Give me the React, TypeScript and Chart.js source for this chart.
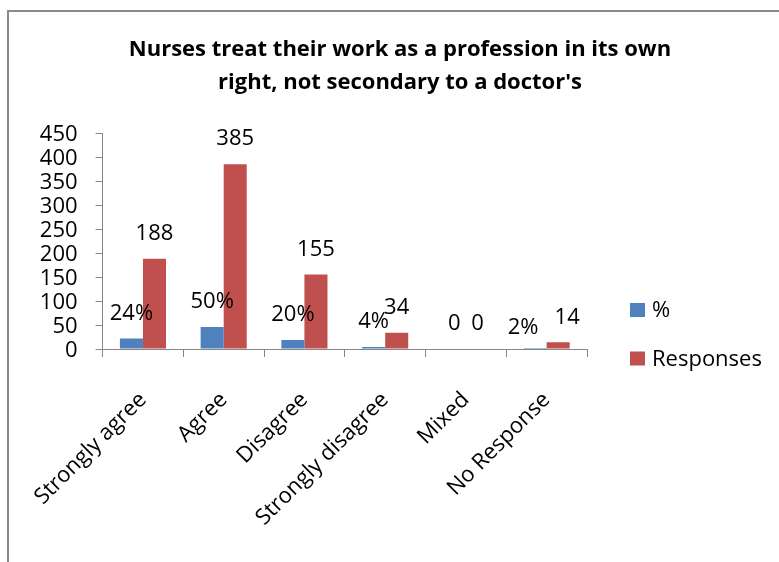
import React, { useEffect, useRef } from "react";
import { Chart, registerables } from "chart.js";

Chart.register(...registerables);

// ---- data ----
const categories = ["Strongly agree", "Agree", "Disagree", "Strongly disagree", "Mixed", "No Response"];
const percentValues = [22, 46, 19, 4, 0, 2];
const percentLabels = ["24%", "50%", "20%", "4%", "0", "2%"];
const responseValues = [188, 385, 155, 34, 0, 14];
const responseLabels = ["188", "385", "155", "34", "0", "14"];
const seriesNames = ["%", "Responses"];
const yMin = 0;
const yMax = 450;
const yStep = 50;
const titleLines = ["Nurses treat their work as a profession in its own", "right, not secondary to a doctor's"];

const BLUE = "#4F81BD";
const RED = "#C0504D";
const AXIS = "#868686";
const FONT = "'Open Sans'";

const dataLabelTexts = [percentLabels, responseLabels];
// small manual nudges (dataset, index) -> [dx, dy], as in the original
const labelNudges: Record<string, [number, number]> = {
  "0-5": [-12, 5],
  "1-5": [9, 0],
};

const decorPlugin = {
  id: "decor",
  beforeDraw(chart: any) {
    const ctx = chart.ctx;
    ctx.save();
    ctx.fillStyle = "#ffffff";
    ctx.fillRect(0, 0, chart.width, chart.height);
    ctx.strokeStyle = "#8a8a8a";
    ctx.lineWidth = 2;
    ctx.beginPath();
    ctx.moveTo(8, chart.height);
    ctx.lineTo(8, 11);
    ctx.lineTo(chart.width, 11);
    ctx.stroke();
    ctx.restore();
  },
  afterDatasetsDraw(chart: any) {
    const ctx = chart.ctx;
    ctx.save();
    ctx.font = `22px ${FONT}`;
    ctx.fillStyle = "#000";
    ctx.textAlign = "center";
    ctx.textBaseline = "middle";
    chart.data.datasets.forEach((_ds: any, di: number) => {
      const meta = chart.getDatasetMeta(di);
      meta.data.forEach((bar: any, i: number) => {
        const nudge = labelNudges[`${di}-${i}`] || [0, 0];
        ctx.fillText(dataLabelTexts[di][i], bar.x + nudge[0], bar.y - 25 + nudge[1]);
      });
    });
    ctx.restore();
  },
  afterDraw(chart: any) {
    const ctx = chart.ctx;
    ctx.save();
    ctx.font = `22px ${FONT}`;
    ctx.textAlign = "left";
    ctx.textBaseline = "middle";
    const x0 = chart.chartArea.right + 43;
    const yStart = 310;
    const gap = 48.5;
    chart.data.datasets.forEach((ds: any, di: number) => {
      const cy = yStart + di * gap;
      ctx.fillStyle = ds.backgroundColor;
      ctx.fillRect(x0, cy - 7, 15, 14);
      ctx.fillStyle = "#000";
      ctx.fillText(ds.label, x0 + 22, cy + 1);
    });
    ctx.restore();
  },
};

export default function App() {
  const canvasRef = useRef<HTMLCanvasElement | null>(null);

  useEffect(() => {
    if (!canvasRef.current) return;
    const chart = new Chart(canvasRef.current, {
      type: "bar",
      data: {
        labels: categories,
        datasets: [
          { label: seriesNames[0], data: percentValues, backgroundColor: BLUE, borderWidth: 0 },
          { label: seriesNames[1], data: responseValues, backgroundColor: RED, borderWidth: 0 },
        ],
      },
      options: {
        responsive: false,
        animation: false,
        devicePixelRatio: 1,
        layout: { padding: { left: 21, right: 0, top: 0, bottom: 0 } },
        datasets: {
          bar: { categoryPercentage: 0.571, barPercentage: 1 },
        },
        plugins: {
          legend: { display: false },
          tooltip: { enabled: false },
          title: {
            display: true,
            text: titleLines,
            color: "#000",
            font: { family: FONT, size: 22, weight: "bold", lineHeight: 1.5 },
            padding: { top: 33, bottom: 34 },
          },
        },
        scales: {
          x: {
            grid: { drawOnChartArea: false, drawTicks: true, tickLength: 8, color: AXIS, offset: true },
            border: { display: true, color: AXIS, width: 1, z: 1 },
            ticks: {
              color: "#000",
              font: { family: FONT, size: 22 },
              maxRotation: 45,
              minRotation: 45,
              padding: 30,
              autoSkip: false,
            },
            afterFit(scale: any) {
              scale.height = 213;
            },
          },
          y: {
            min: yMin,
            max: yMax,
            grid: { drawOnChartArea: false, drawTicks: true, tickLength: 7, color: AXIS },
            border: { display: true, color: AXIS, width: 1 },
            ticks: {
              stepSize: yStep,
              color: "#000",
              font: { family: FONT, size: 22 },
              padding: 18,
              labelOffset: 2,
              autoSkip: false,
            },
            afterFit(scale: any) {
              scale.width = 81;
            },
          },
          legendSpace: {
            type: "linear",
            position: "right",
            display: true,
            grid: { display: false, drawTicks: false },
            border: { display: false },
            ticks: { display: false },
            afterFit(scale: any) {
              scale.width = 192;
            },
          },
        },
      } as any,
      plugins: [decorPlugin],
    });
    return () => chart.destroy();
  }, []);

  return (
    <div style={{ position: "absolute", left: 0, top: 0, width: 779, height: 562 }}>
      <canvas ref={canvasRef} width={779} height={562} style={{ display: "block" }} />
    </div>
  );
}
